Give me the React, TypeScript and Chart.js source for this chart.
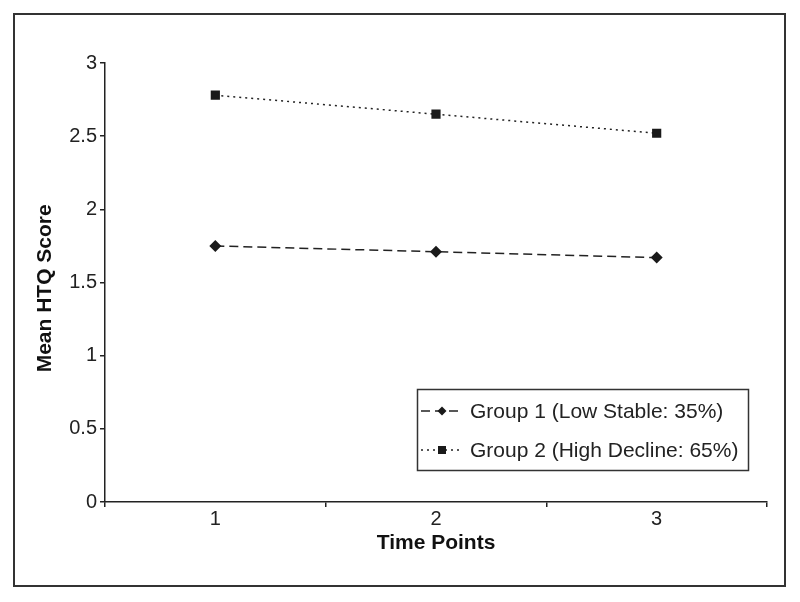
import React, { useEffect, useRef } from "react";
import { Chart, registerables } from "chart.js";

Chart.register(...registerables);

const categories = ["1", "2", "3"];
const group1 = [1.75, 1.71, 1.67];
const group2 = [2.78, 2.65, 2.52];
const seriesNames = ["Group 1 (Low Stable: 35%)", "Group 2 (High Decline: 65%)"];
const xTitle = "Time Points";
const yTitle = "Mean HTQ Score  ";

const FONT = "'Liberation Sans', Arial, Helvetica, sans-serif";
const INK = "#222";

const framePlugin = {
  id: "frame",
  afterDraw(chart: any) {
    const ctx = chart.ctx;
    ctx.save();
    ctx.strokeStyle = "#333";
    ctx.lineWidth = 2;
    ctx.strokeRect(14, 14, 771, 572);
    ctx.restore();
  },
};

const boxLegendPlugin = {
  id: "boxLegend",
  afterDraw(chart: any) {
    const ctx = chart.ctx;
    const bx = 417, by = 389, bw = 331, bh = 81;
    ctx.save();
    ctx.fillStyle = "#fff";
    ctx.fillRect(bx, by, bw, bh);
    ctx.strokeStyle = "#333";
    ctx.lineWidth = 1.5;
    ctx.strokeRect(bx + 0.5, by + 0.5, bw, bh);
    const rows = [411, 450];
    chart.data.datasets.forEach((ds: any, i: number) => {
      const y = rows[i];
      const mx = 442;
      ctx.strokeStyle = ds.borderColor;
      ctx.lineWidth = ds.borderWidth;
      ctx.setLineDash(ds.borderDash || []);
      ctx.beginPath();
      ctx.moveTo(421, y);
      ctx.lineTo(462, y);
      ctx.stroke();
      ctx.setLineDash([]);
      ctx.fillStyle = ds.pointBackgroundColor;
      ctx.beginPath();
      if (ds.pointStyle === "rectRot") {
        const r = 4.5;
        ctx.moveTo(mx, y - r);
        ctx.lineTo(mx + r, y);
        ctx.lineTo(mx, y + r);
        ctx.lineTo(mx - r, y);
        ctx.closePath();
      } else {
        ctx.rect(mx - 4, y - 4, 8, 8);
      }
      ctx.fill();
      ctx.fillStyle = INK;
      ctx.font = `21px ${FONT}`;
      ctx.textBaseline = "middle";
      ctx.textAlign = "left";
      ctx.fillText(seriesNames[i], 470, y + 1);
    });
    ctx.restore();
  },
};

export default function App() {
  const ref = useRef<HTMLCanvasElement | null>(null);

  useEffect(() => {
    document.body.style.margin = "0";
    if (!ref.current) return;
    Chart.defaults.font.family = FONT;
    const chart = new Chart(ref.current, {
      type: "line",
      data: {
        labels: categories,
        datasets: [
          {
            label: seriesNames[0],
            data: group1,
            borderColor: INK,
            borderWidth: 1.5,
            borderDash: [9, 5],
            pointStyle: "rectRot",
            pointRadius: 6,
            pointBackgroundColor: "#1a1a1a",
            pointBorderColor: "#1a1a1a",
            pointBorderWidth: 0,
            fill: false,
            tension: 0,
          },
          {
            label: seriesNames[1],
            data: group2,
            borderColor: INK,
            borderWidth: 1.5,
            borderDash: [2, 4],
            pointStyle: "rect",
            pointRadius: 6.5,
            pointBackgroundColor: "#1a1a1a",
            pointBorderColor: "#1a1a1a",
            pointBorderWidth: 0,
            fill: false,
            tension: 0,
          },
        ],
      },
      options: {
        animation: false,
        responsive: false,
        devicePixelRatio: 1,
        layout: { padding: { left: 14, right: 33, top: 63, bottom: 40 } },
        plugins: {
          legend: { display: false },
          tooltip: { enabled: false },
        },
        scales: {
          x: {
            type: "category",
            offset: true,
            grid: {
              offset: true,
              drawOnChartArea: false,
              drawTicks: true,
              tickLength: 5,
              color: INK,
              lineWidth: 1.5,
            },
            border: { color: INK, width: 1.5 },
            ticks: { font: { size: 20 }, color: INK, padding: 0 },
            title: {
              display: true,
              text: xTitle,
              color: "#111",
              font: { size: 21, weight: "bold" },
              padding: { top: 0, bottom: 6 },
            },
            afterFit: (s: any) => {
              s.height = 60;
            },
          },
          y: {
            min: 0,
            max: 3,
            ticks: {
              stepSize: 0.5,
              font: { size: 20 },
              color: INK,
              padding: 3,
              callback: (v: any) => String(Number(v)),
            },
            grid: {
              drawOnChartArea: false,
              drawTicks: true,
              tickLength: 5,
              color: INK,
              lineWidth: 1.5,
            },
            border: { color: INK, width: 1.5 },
            title: {
              display: true,
              text: yTitle,
              color: "#111",
              font: { size: 21, weight: "bold" },
              padding: { top: 19, bottom: 0 },
            },
            afterFit: (s: any) => {
              s.width = 91;
            },
          },
        },
      },
      plugins: [framePlugin, boxLegendPlugin],
    } as any);
    return () => chart.destroy();
  }, []);

  return (
    <div style={{ width: 800, height: 602, background: "#fff" }}>
      <canvas ref={ref} width={800} height={602} style={{ display: "block" }} />
    </div>
  );
}
